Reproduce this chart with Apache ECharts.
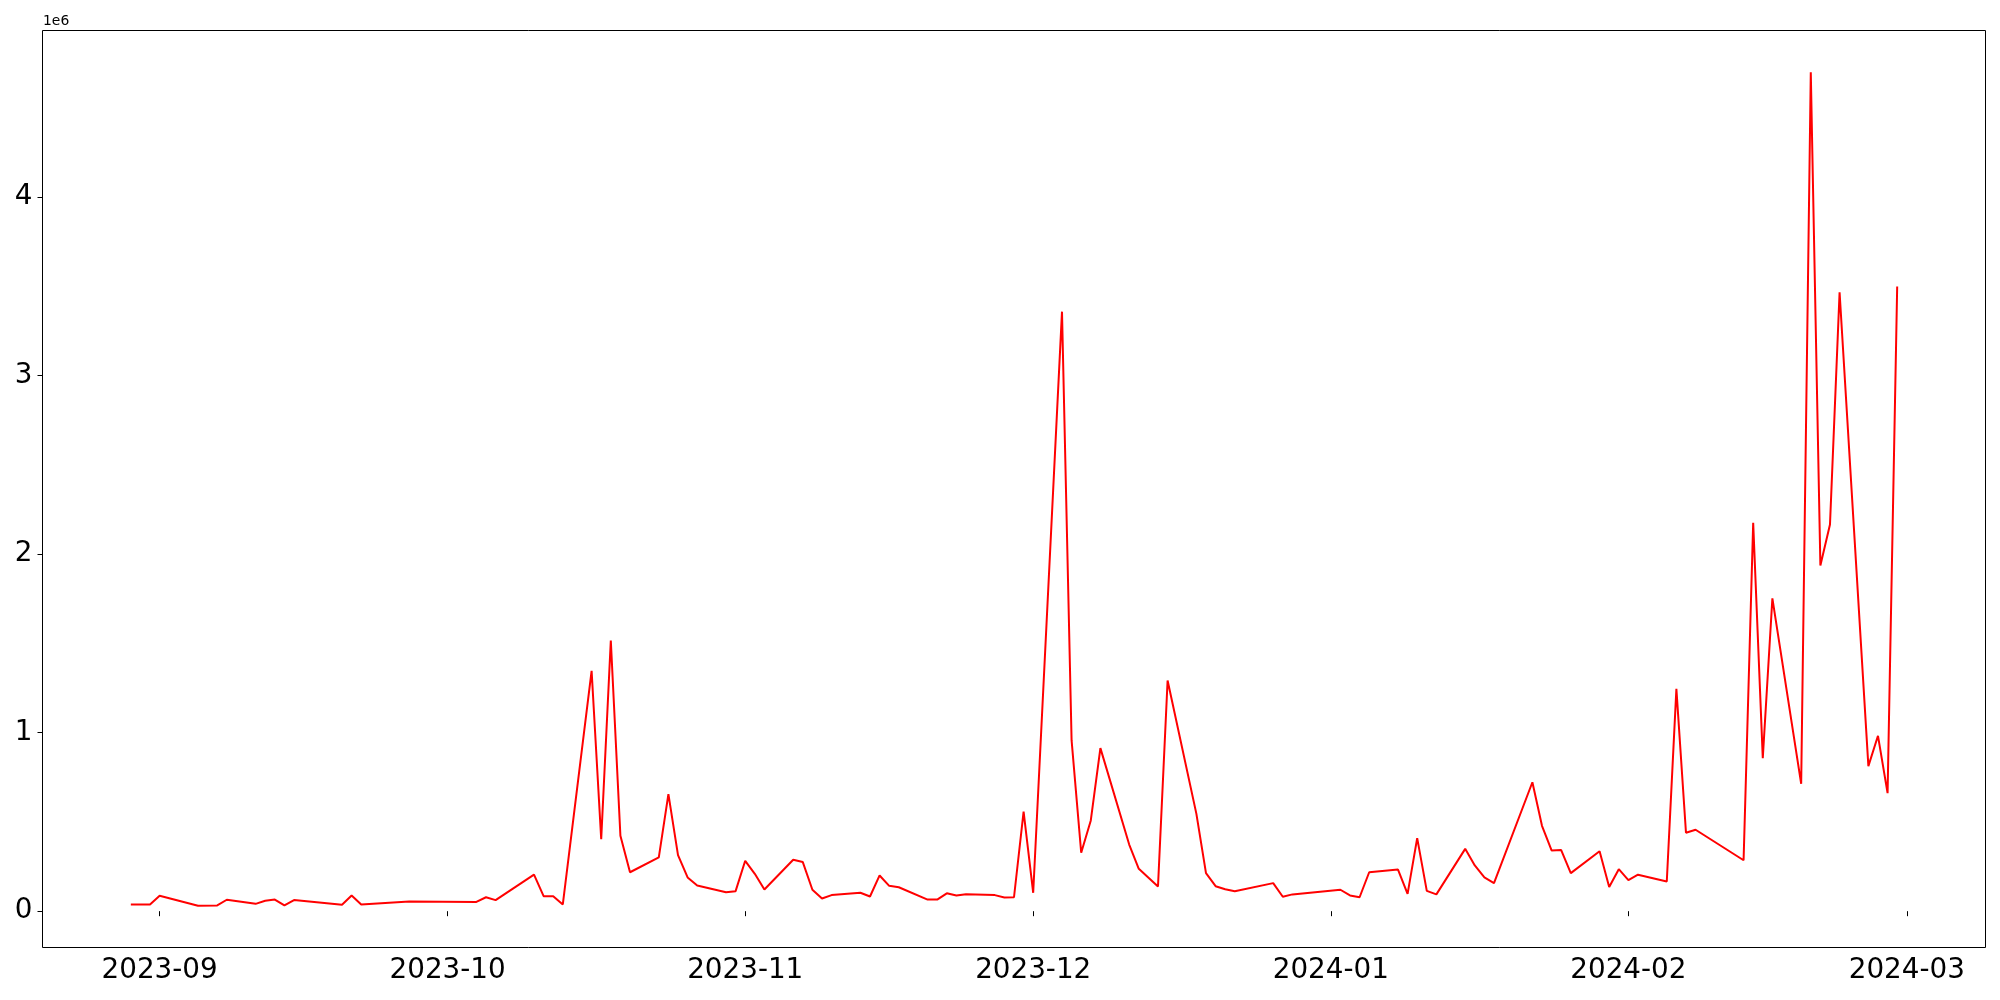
<!DOCTYPE html>
<html>
<head>
<meta charset="utf-8">
<script src="https://cdn.jsdelivr.net/npm/echarts@6/dist/echarts.min.js"></script>
<style>
html,body{margin:0;padding:0;background:#fff;}
#chart{width:2000px;height:1000px;}
</style>
</head>
<body>
<div id="chart"></div>
<script>
// ---- data ----
const dates = [
 '2023-08-29','2023-08-31','2023-09-01','2023-09-05','2023-09-07','2023-09-08','2023-09-11','2023-09-12','2023-09-13','2023-09-14','2023-09-15',
 '2023-09-20','2023-09-21','2023-09-22','2023-09-27','2023-10-04','2023-10-05','2023-10-06','2023-10-10','2023-10-11','2023-10-12','2023-10-13',
 '2023-10-16','2023-10-17','2023-10-18','2023-10-19','2023-10-20','2023-10-23','2023-10-24','2023-10-25','2023-10-26','2023-10-27','2023-10-30','2023-10-31',
 '2023-11-01','2023-11-02','2023-11-03','2023-11-06','2023-11-07','2023-11-08','2023-11-09','2023-11-10','2023-11-13','2023-11-14','2023-11-15','2023-11-16','2023-11-17',
 '2023-11-20','2023-11-21','2023-11-22','2023-11-23','2023-11-24','2023-11-27','2023-11-28','2023-11-29','2023-11-30',
 '2023-12-01','2023-12-04','2023-12-05','2023-12-06','2023-12-07','2023-12-08','2023-12-11','2023-12-12','2023-12-14','2023-12-15',
 '2023-12-18','2023-12-19','2023-12-20','2023-12-21','2023-12-22','2023-12-26','2023-12-27','2023-12-28',
 '2024-01-02','2024-01-03','2024-01-04','2024-01-05','2024-01-08','2024-01-09','2024-01-10','2024-01-11','2024-01-12',
 '2024-01-15','2024-01-16','2024-01-17','2024-01-18','2024-01-22','2024-01-23','2024-01-24','2024-01-25','2024-01-26',
 '2024-01-29','2024-01-30','2024-01-31','2024-02-01','2024-02-02','2024-02-05','2024-02-06','2024-02-07','2024-02-08',
 '2024-02-13','2024-02-14','2024-02-15','2024-02-16','2024-02-19','2024-02-20','2024-02-21','2024-02-22','2024-02-23',
 '2024-02-26','2024-02-27','2024-02-28','2024-02-29'
];
const values = [
 37500,37500,86000,30000,32000,64000,41000,58000,65000,32000,62000,
 36000,88000,37500,54000,52000,78000,62000,205000,84000,84000,37500,
 1346000,403000,1516000,422000,218000,301000,655000,314000,189000,144000,106000,112000,
 282000,209000,121000,288000,275000,120000,71000,90000,103000,82000,200000,142000,134000,
 65000,65000,100000,88000,95000,90000,77000,78000,558000,
 103000,3357000,956000,327000,508000,913000,373000,237000,138000,1292000,
 545000,213000,140000,123000,112000,157000,81000,94000,
 120000,88000,78000,218000,233000,97000,409000,114000,94000,
 349000,256000,189000,157000,722000,478000,340000,342000,213000,
 336000,135000,235000,174000,204000,166000,1245000,439000,456000,
 285000,2175000,857000,1752000,713000,4698000,1936000,2165000,3466000,
 812000,982000,661000,3498000
];
const xTickLabels = ['2023-09','2023-10','2023-11','2023-12','2024-01','2024-02','2024-03'];
const yTickValues = [0,1000000,2000000,3000000,4000000];
const offsetText = '1e6';

// ---- helpers ----
function ts(s){ const p=s.split('-').map(Number); return Date.UTC(p[0],p[1]-1,p[2]||1); }
const seriesData = dates.map((d,i)=>[ts(d), values[i]]);
const xTicks = xTickLabels.map(ts);
const labelMap = {}; xTickLabels.forEach((l,i)=>labelMap[xTicks[i]]=l);

const t0 = ts(dates[0]), t1 = ts(dates[dates.length-1]);
const xPad = (t1-t0)*0.05;
const vMin = Math.min(...values), vMax = Math.max(...values);
const yPad = (vMax-vMin)*0.05;

const FONT = 'DejaVu Sans';
const chart = echarts.init(document.getElementById('chart'), null, {renderer:'canvas'});
chart.setOption({
  animation:false,
  backgroundColor:'#ffffff',
  grid:{left:42.5, top:30.5, width:1943, height:917, show:true, borderColor:'#000', borderWidth:1, backgroundColor:'transparent'},
  graphic:[{type:'text', left:43, top:14, style:{text:offsetText, fontFamily:FONT, fontSize:13.9, fill:'#000'}}],
  xAxis:{
    type:'value', min:t0-xPad, max:t1+xPad,
    axisLine:{show:false},
    splitLine:{show:false},
    axisTick:{show:true, inside:false, length:5, customValues:xTicks, lineStyle:{color:'#000', width:1}},
    axisLabel:{show:true, customValues:xTicks, margin:9, color:'#000', fontFamily:FONT, fontSize:27.8,
      formatter:function(v){ return labelMap[v] !== undefined ? labelMap[v] : ''; }, hideOverlap:false}
  },
  yAxis:{
    type:'value', min:vMin-yPad, max:vMax+yPad,
    axisLine:{show:false},
    splitLine:{show:false},
    axisTick:{show:true, inside:false, length:5, customValues:yTickValues, lineStyle:{color:'#000', width:1}},
    axisLabel:{show:true, customValues:yTickValues, margin:10, color:'#000', fontFamily:FONT, fontSize:27.8,
      formatter:function(v){ return String(Math.round(v/1e6)); }}
  },
  series:[{
    type:'line', data:seriesData, showSymbol:false, symbol:'none',
    lineStyle:{color:'#ff0000', width:2}, itemStyle:{color:'#ff0000'}
  }]
});
</script>
</body>
</html>
